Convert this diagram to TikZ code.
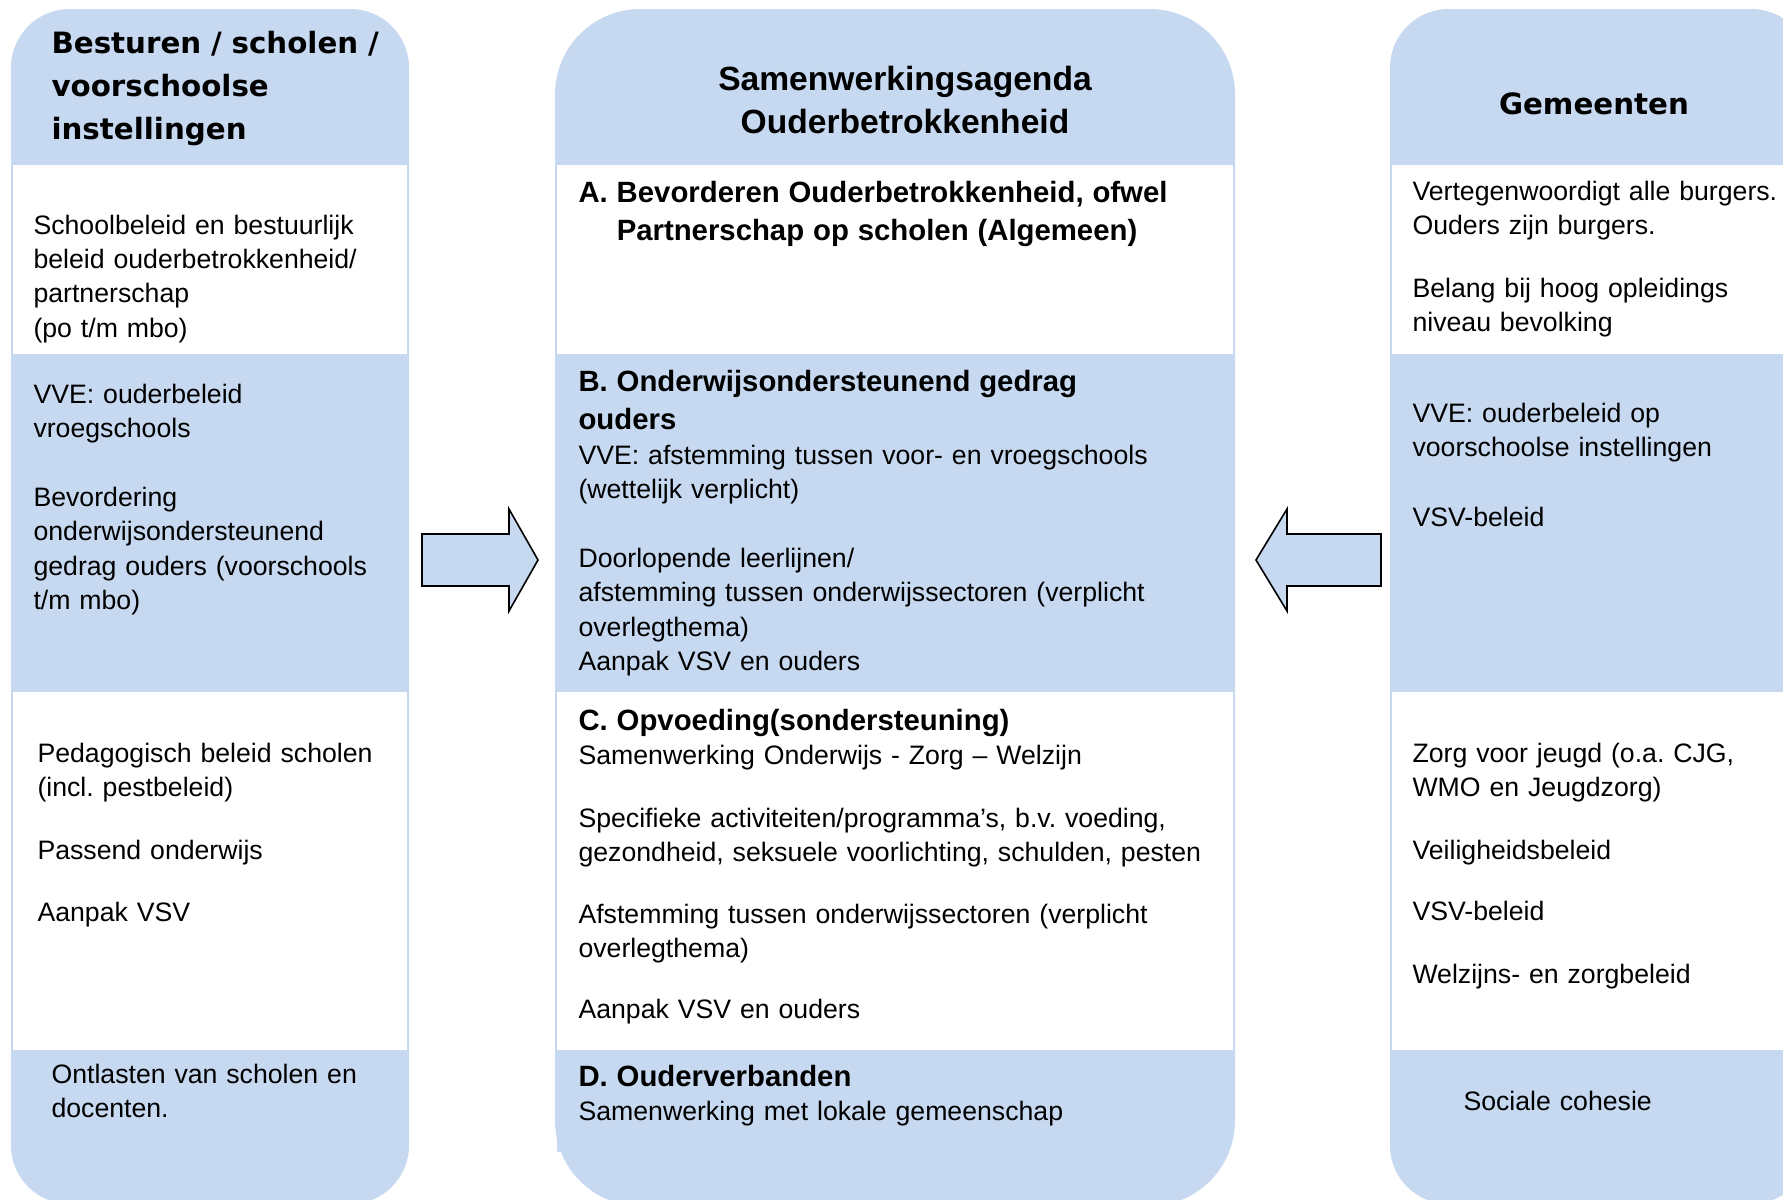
\documentclass[tikz,border=0pt]{standalone}
\usepackage{fontspec}
\setmainfont{Liberation Sans}
\newfontfamily\hdrfont{DejaVu Sans}
\usepackage{tikz}
\definecolor{colblue}{HTML}{C6D9F1}
\newcommand{\kop}{\bfseries\fontsize{11}{14.5}\selectfont}
\frenchspacing
\tikzset{
    every picture/.style={line join=miter},
}

\begin{document}
\begin{tikzpicture}[x=0.375pt,y=-0.375pt,
  colbox/.style={fill=colblue},
  cell/.style={fill=white},
  txt/.style={anchor=base west,inner sep=0pt,text width=#1,align=left,font=\fontsize{10}{12.9}\selectfont},
  hdrl/.style={anchor=base west,inner sep=0pt,text width=160pt,align=left,font=\hdrfont\bfseries\fontsize{11}{16.2}\selectfont},
  hdrm/.style={anchor=base,inner sep=0pt,text width=240pt,align=center,font=\bfseries\fontsize{12.6}{16.2}\selectfont},
  hdrr/.style={anchor=base,inner sep=0pt,font=\hdrfont\bfseries\fontsize{11}{16.2}\selectfont},
  blockarrow/.style={fill=colblue,draw=black,line width=0.6pt}]
\useasboundingbox (0,0) rectangle (1783,1200);
\clip (0,0) rectangle (1783,1200);
\fill[colbox,rounded corners=22pt] (11,9) rectangle (409,1204);
\fill[colbox,rounded corners=32pt] (555,9) rectangle (1235,1206);
\fill[colbox,rounded corners=22pt] (1390,9) rectangle (1810,1204);
\foreach \a/\b in {13/407,557/1233,1392/1783} {
  \fill[cell] (\a,165) rectangle (\b,354);
  \fill[cell] (\a,692) rectangle (\b,1050);
}
\fill[colbox] (557,1050) rectangle (800,1152);

\node[hdrl] (lhead) at (51,53) {Besturen / scholen /\\voorschoolse\\instellingen};
\node[hdrm] (mhead) at (905,90) {Samenwerkingsagenda\\Ouderbetrokkenheid};
\node[hdrr] (rhead) at (1594,114) {Gemeenten};

\node[txt=140pt] (l1) at (33,234) {Schoolbeleid en bestuurlijk\\beleid ouderbetrokkenheid/\\partnerschap\\(po t/m mbo)};
\node[txt=140pt] (l2) at (33,403) {VVE: ouderbeleid\\vroegschools\\[13pt]Bevordering\\onderwijsondersteunend\\gedrag ouders (voorschools\\t/m mbo)};
\node[txt=140pt] (l3) at (37,762) {Pedagogisch beleid scholen\\(incl. pestbeleid)\\[10.8pt]Passend onderwijs\\[10.2pt]Aanpak VSV};
\node[txt=140pt] (l4) at (51,1083) {Ontlasten van scholen en\\docenten.};

\node[txt=240pt] (ma) at (578,202) {\kop A. Bevorderen Ouderbetrokkenheid, ofwel\\\hphantom{A.\ }Partnerschap op scholen (Algemeen)\par};
\node[txt=240pt] (mb) at (578,391) {{\kop B. Onderwijsondersteunend gedrag\\ouders\par}VVE: afstemming tussen voor- en vroegschools\\(wettelijk verplicht)\\[13pt]Doorlopende leerlijnen/\\afstemming tussen onderwijssectoren (verplicht\\overlegthema)\\Aanpak VSV en ouders};
\node[txt=240pt] (mc) at (578,730) {{\kop C. Opvoeding(sondersteuning)\par}Samenwerking Onderwijs - Zorg – Welzijn\\[10.7pt]Specifieke activiteiten/programma’s, b.v. voeding,\\gezondheid, seksuele voorlichting, schulden, pesten\\[10.1pt]Afstemming tussen onderwijssectoren (verplicht\\overlegthema)\\[10.1pt]Aanpak VSV en ouders};
\node[txt=240pt] (md) at (578,1086) {{\kop D. Ouderverbanden\par}Samenwerking met lokale gemeenschap};

\node[txt=145pt] (r1) at (1412,200) {Vertegenwoordigt alle burgers.\\Ouders zijn burgers.\\[10.7pt]Belang bij hoog opleidings\\niveau bevolking};
\node[txt=145pt] (r2) at (1412,422) {VVE: ouderbeleid op\\voorschoolse instellingen\\[13.2pt]VSV-beleid};
\node[txt=145pt] (r3) at (1412,762) {Zorg voor jeugd (o.a. CJG,\\WMO en Jeugdzorg)\\[10.8pt]Veiligheidsbeleid\\[10.1pt]VSV-beleid\\[10.5pt]Welzijns- en zorgbeleid};
\node[txt=145pt] (r4) at (1463,1110) {Sociale cohesie};

\draw[blockarrow] (422,534) -- (509,534) -- (509,509) -- (538,560) -- (509,611) -- (509,586) -- (422,586) -- cycle;
\draw[blockarrow] (1381,534) -- (1287,534) -- (1287,509) -- (1256,560) -- (1287,611) -- (1287,586) -- (1381,586) -- cycle;
\end{tikzpicture}
\end{document}
